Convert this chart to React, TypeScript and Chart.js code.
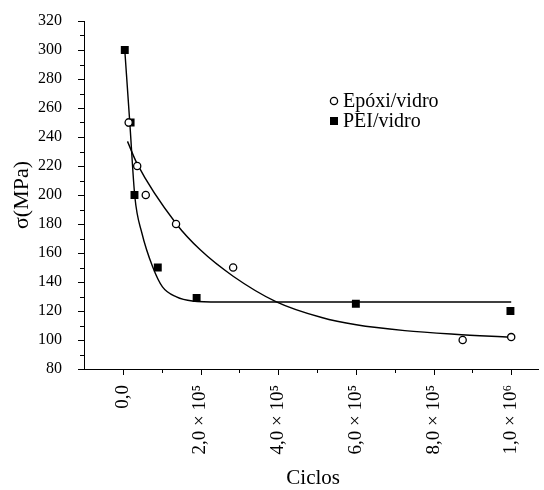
import React, { useEffect, useRef } from 'react';
import { Chart, registerables } from 'chart.js';

Chart.register(...registerables);

// Measured points
const seriesNames = ['Epóxi/vidro', 'PEI/vidro'];
const epoxyCycles = [15000, 37000, 59000, 137000, 284000, 875000, 1000000];
const epoxyStress = [250, 220, 200, 180, 150, 100, 102];
const peiCycles = [5000, 20000, 30000, 90000, 190000, 600000, 998000];
const peiStress = [300, 250, 200, 150, 129, 125, 120];

// Fitted curves
const epoxyFitCycles = [12000, 36000, 138000, 200000, 284000, 394000, 512000, 601000, 726000, 854000, 997000];
const epoxyFitStress = [237, 222, 180, 162, 144, 126.5, 115.5, 110.5, 106.5, 104, 102];
const peiFitCycles = [5000, 18000, 31000, 49000, 77000, 102000, 138000, 179000, 248000, 1000000];
const peiFitStress = [300, 249.6, 198.6, 173.8, 150.3, 136.6, 129.7, 126.9, 126.2, 126.2];

// Axes
const xMin = -100000;
const xMax = 1070000;
const xTickValues = [0, 200000, 400000, 600000, 800000, 1000000];
const xTickLabels = ['0,0', '2,0 × 10⁵', '4,0 × 10⁵', '6,0 × 10⁵', '8,0 × 10⁵', '1,0 × 10⁶'];
const xMinorStep = 100000;
const yMin = 80;
const yMax = 320;
const yTickValues = [80, 100, 120, 140, 160, 180, 200, 220, 240, 260, 280, 300, 320];
const yMinorStep = 10;
const xTitle = 'Ciclos';
const yTitle = 'σ(MPa)';

const FONT = '"Liberation Serif", "Times New Roman", serif';

const toPts = (xs: number[], ys: number[]) => xs.map((x, i) => ({ x, y: ys[i] }));

const decorPlugin = {
  id: 'decor',
  afterDraw(chart: any) {
    const { ctx, chartArea, scales } = chart;
    const xs = scales.x;
    const ys = scales.y;
    ctx.save();
    ctx.strokeStyle = '#000';
    ctx.lineWidth = 1;
    // y ticks (major + minor)
    for (let v = yMin; v <= yMax; v += yMinorStep) {
      const p = Math.round(ys.getPixelForValue(v)) + 0.5;
      const len = v % 20 === 0 ? 6 : 4;
      ctx.beginPath();
      ctx.moveTo(chartArea.left - len, p);
      ctx.lineTo(chartArea.left, p);
      ctx.stroke();
    }
    // x ticks
    for (let v = 0; v <= 1000000; v += xMinorStep) {
      const p = Math.round(xs.getPixelForValue(v)) + 0.5;
      const len = v % 200000 === 0 ? 6 : 4;
      ctx.beginPath();
      ctx.moveTo(p, chartArea.bottom);
      ctx.lineTo(p, chartArea.bottom + len);
      ctx.stroke();
    }
    // axis titles
    ctx.fillStyle = '#000';
    ctx.font = `21px ${FONT}`;
    ctx.textAlign = 'center';
    ctx.textBaseline = 'middle';
    ctx.fillText(xTitle, (chartArea.left + chartArea.right) / 2 + 2, 478);
    ctx.save();
    ctx.translate(22, 195);
    ctx.rotate(-Math.PI / 2);
    ctx.font = `22px ${FONT}`;
    ctx.fillText(yTitle, 0, 0);
    ctx.restore();
    // legend
    const lx = chartArea.left + 250;
    const ly = chartArea.top + 80;
    ctx.font = `20px ${FONT}`;
    ctx.textAlign = 'left';
    ctx.lineWidth = 1.3;
    ctx.beginPath();
    ctx.arc(lx, ly, 3.6, 0, Math.PI * 2);
    ctx.fillStyle = '#fff';
    ctx.fill();
    ctx.stroke();
    ctx.fillStyle = '#000';
    ctx.fillText(seriesNames[0], lx + 9, ly + 1);
    ctx.fillRect(lx - 4, ly + 20 - 4, 8, 8);
    ctx.fillText(seriesNames[1], lx + 9, ly + 21);
    ctx.restore();
  },
};

export default function App() {
  const ref = useRef<HTMLCanvasElement | null>(null);
  useEffect(() => {
    if (!ref.current) return;
    const chart = new Chart(ref.current, {
      type: 'scatter',
      data: {
        datasets: [
          {
            label: seriesNames[0],
            data: toPts(epoxyCycles, epoxyStress),
            showLine: false,
            pointStyle: 'circle',
            pointRadius: 3.6,
            pointBackgroundColor: '#fff',
            pointBorderColor: '#000',
            pointBorderWidth: 1.3,
          },
          {
            label: seriesNames[1],
            data: toPts(peiCycles, peiStress),
            showLine: false,
            pointStyle: 'rect',
            pointRadius: 5.6,
            pointBackgroundColor: '#000',
            pointBorderColor: '#000',
            pointBorderWidth: 0,
          },
          {
            label: 'fit1',
            data: toPts(epoxyFitCycles, epoxyFitStress),
            showLine: true,
            pointRadius: 0,
            borderColor: '#000',
            borderWidth: 1.4,
            cubicInterpolationMode: 'monotone',
          },
          {
            label: 'fit2',
            data: toPts(peiFitCycles, peiFitStress),
            showLine: true,
            pointRadius: 0,
            borderColor: '#000',
            borderWidth: 1.4,
            cubicInterpolationMode: 'monotone',
          },
        ],
      } as any,
      options: {
        responsive: false,
        animation: false,
        layout: { padding: { top: 21, right: 0, left: 0, bottom: 0 } },
        plugins: { legend: { display: false }, tooltip: { enabled: false } },
        scales: {
          x: {
            type: 'linear',
            min: xMin,
            max: xMax,
            afterBuildTicks: (s: any) => {
              s.ticks = xTickValues.map((v) => ({ value: v }));
            },
            afterFit: (s: any) => {
              s.height = 121;
              s.paddingLeft = 0;
              s.paddingRight = 0;
            },
            ticks: {
              autoSkip: false,
              minRotation: 90,
              maxRotation: 90,
              padding: 16,
              color: '#000',
              font: { family: FONT, size: 19 },
              callback: (v: any) => {
                const i = xTickValues.indexOf(Number(v));
                return i >= 0 ? xTickLabels[i] : '';
              },
            },
            grid: { display: false, drawTicks: false },
            border: { display: true, color: '#000', width: 1 },
          },
          y: {
            type: 'linear',
            min: yMin,
            max: yMax,
            afterBuildTicks: (s: any) => {
              s.ticks = yTickValues.map((v) => ({ value: v }));
            },
            afterFit: (s: any) => {
              s.width = 84;
              s.paddingTop = 0;
              s.paddingBottom = 0;
            },
            ticks: {
              autoSkip: false,
              padding: 22,
              color: '#000',
              font: { family: FONT, size: 16 },
              callback: (v: any) => String(v),
            },
            grid: { display: false, drawTicks: false },
            border: { display: true, color: '#000', width: 1 },
          },
        },
      } as any,
      plugins: [decorPlugin],
    });
    return () => chart.destroy();
  }, []);
  return (
    <div style={{ position: 'fixed', left: 0, top: 0, width: 544, height: 490, background: '#fff' }}>
      <canvas ref={ref} width={544} height={490} style={{ display: 'block' }} />
    </div>
  );
}
